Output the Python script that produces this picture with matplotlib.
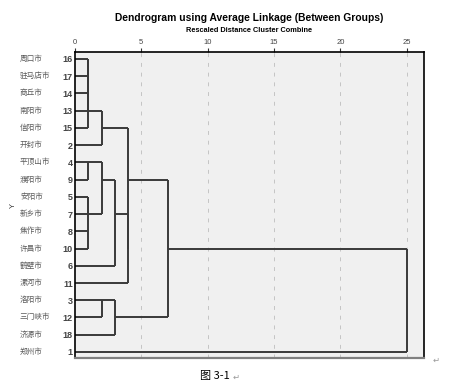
import matplotlib
matplotlib.use("Agg")
import matplotlib.pyplot as plt
import matplotlib.transforms as mtransforms

plt.rcParams['font.family'] = ['Liberation Sans', 'Noto Sans CJK SC', 'DejaVu Sans']

# leaf order top to bottom, with case numbers and city names
leaf_ids = [16, 17, 14, 13, 15, 2, 4, 9, 5, 7, 8, 10, 6, 11, 3, 12, 18, 1]
leaf_names = ['周口市', '驻马店市', '商丘市', '南阳市', '信阳市', '开封市', '平顶山市', '濮阳市',
              '安阳市', '新乡市', '焦作市', '许昌市', '鹤壁市', '漯河市', '洛阳市', '三门峡市',
              '济源市', '郑州市']

# agglomeration schedule: (cluster a, cluster b, rescaled distance)
# clusters named by leaf id, merged clusters as 'c1', 'c2', ... in order
merges = [
    (16, 17, 1), ('c1', 14, 1), ('c2', 13, 1), ('c3', 15, 1),
    (4, 9, 1), (5, 7, 1), (8, 10, 1), ('c6', 'c7', 1),
    ('c4', 2, 2), ('c5', 'c8', 2), (3, 12, 2),
    ('c10', 6, 3), ('c11', 18, 3),
    ('c12', 11, 4), ('c9', 'c14', 4),
    ('c15', 'c13', 7),
    ('c16', 1, 25),
]
x_ticks = [0, 5, 10, 15, 20, 25]

pos = {lid: i for i, lid in enumerate(leaf_ids)}
height = {lid: 0 for lid in leaf_ids}

fig = plt.figure(figsize=(4.49, 3.9), dpi=100)
ax = fig.add_axes([75 / 449, 1 - 358 / 390, 349 / 449, 306 / 390])
ax.set_facecolor('#f0f0f0')

lc = '#3a3a3a'
for k, (a, b, h) in enumerate(merges):
    pa, pb = pos[a], pos[b]
    ax.plot([height[a], h], [pa, pa], color=lc, lw=1.4, solid_capstyle='butt')
    ax.plot([height[b], h], [pb, pb], color=lc, lw=1.4, solid_capstyle='butt')
    ax.plot([h, h], [pa, pb], color=lc, lw=1.4, solid_capstyle='butt')
    name = 'c%d' % (k + 1)
    pos[name] = (pa + pb) // 2
    height[name] = h

for x in x_ticks[1:]:
    ax.axvline(x, color='#c4c4c4', lw=0.7, ls=(0, (4, 6)), zorder=0)

ax.set_xlim(0, 26.3)
ax.set_ylim(len(leaf_ids) - 1 + 0.35, -0.4)

ax.xaxis.tick_top()
ax.set_xticks(x_ticks)
ax.set_xticklabels([str(v) for v in x_ticks], fontsize=5.5, color='#444444')
ax.tick_params(axis='x', length=3, width=0.8, pad=1.5, color='#333333')

ax.set_yticks(range(len(leaf_ids)))
ax.set_yticklabels([str(v) for v in leaf_ids], fontsize=6.5, fontweight='bold', color='#444444')
ax.tick_params(axis='y', length=0, pad=1.5)

trans = mtransforms.blended_transform_factory(fig.transFigure, ax.transData)
for i, nm in enumerate(leaf_names):
    ax.text(20 / 449, i, nm, transform=trans, fontsize=5.5, color='#5a5a5a',
            ha='left', va='center', family=['Noto Sans CJK SC', 'DejaVu Sans'])

for side in ['top', 'left', 'right']:
    ax.spines[side].set_color('black')
    ax.spines[side].set_linewidth(1.2)
ax.spines['bottom'].set_color('#808080')
ax.spines['bottom'].set_linewidth(1.6)

fig.text(249.5 / 449, 1 - 18 / 390, 'Dendrogram using Average Linkage (Between Groups)',
         ha='center', va='center', fontsize=7.4, fontweight='bold')
fig.text(249.5 / 449, 1 - 31 / 390, 'Rescaled Distance Cluster Combine',
         ha='center', va='center', fontsize=5.3, fontweight='bold')
fig.text(13 / 449, 1 - 205 / 390, 'Y', rotation=90, ha='center', va='center', fontsize=5.5,
         color='#333333')

fig.text(200 / 449, 1 - 376 / 390, '图 3-1', ha='left', va='center', fontsize=8,
         family=['Noto Sans CJK SC', 'DejaVu Sans'])
fig.text(233 / 449, 1 - 377 / 390, '↵', ha='left', va='center', fontsize=6, color='#999999',
         family=['DejaVu Sans'])
fig.text(433 / 449, 1 - 360 / 390, '↵', ha='left', va='center', fontsize=6, color='#999999',
         family=['DejaVu Sans'])

fig.savefig('out.png', dpi=100)
